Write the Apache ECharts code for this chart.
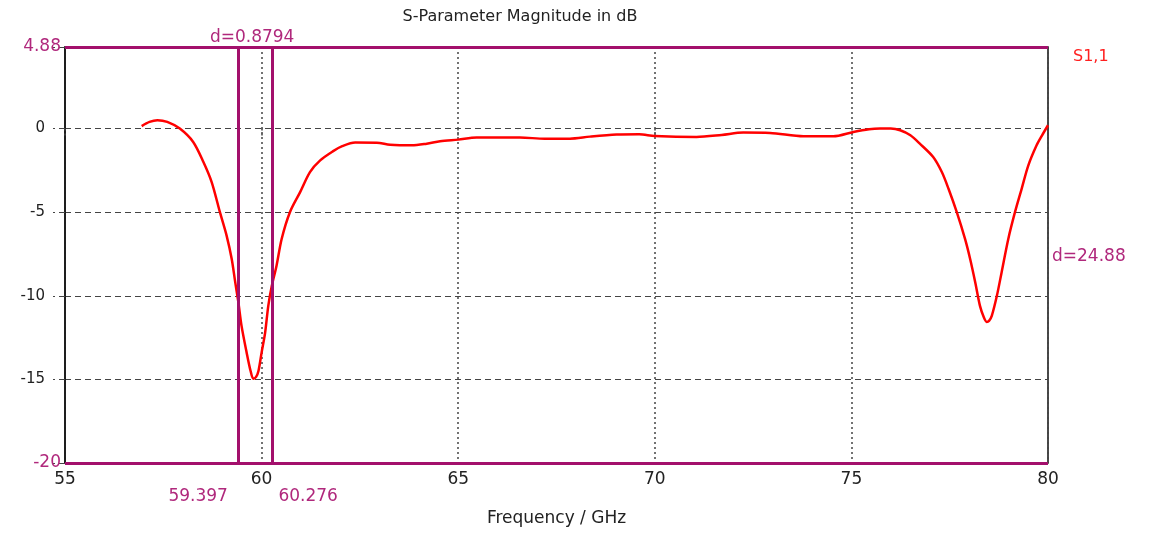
<!DOCTYPE html>
<html><head><meta charset="utf-8">
<script src="https://cdn.jsdelivr.net/npm/echarts@6/dist/echarts.min.js"></script>
<style>html,body{margin:0;padding:0;background:#fff}#c{width:1153px;height:533px}</style>
</head><body><div id="c"></div>
<script>
const freq = [56.95,57.15,57.35,57.6,57.92,58.26,58.52,58.73,58.94,59.11,59.24,59.33,59.41,59.49,59.62,59.72,59.79,59.86,59.92,60.0,60.09,60.17,60.26,60.38,60.51,60.72,60.98,61.23,61.49,61.82,62.05,62.38,62.93,63.27,63.82,64.2,64.54,65.0,65.47,66.57,67.2,67.84,68.35,69.03,69.6,70.0,71.06,71.7,72.25,72.93,73.78,74.54,75.05,75.45,75.73,76.0,76.24,76.5,76.74,77.08,77.3,77.47,77.68,77.89,78.02,78.15,78.27,78.37,78.44,78.5,78.57,78.7,78.82,78.99,79.16,79.33,79.5,79.71,79.85,80.0];
const s11 = [0.15,0.4,0.5,0.4,0.0,-0.8,-2.0,-3.2,-5.0,-6.4,-7.8,-9.2,-10.4,-11.8,-13.4,-14.5,-14.96,-14.85,-14.5,-13.4,-12.2,-10.6,-9.4,-8.2,-6.6,-5.0,-3.8,-2.6,-1.9,-1.35,-1.05,-0.83,-0.84,-0.96,-1.0,-0.9,-0.76,-0.66,-0.54,-0.54,-0.6,-0.6,-0.48,-0.36,-0.34,-0.44,-0.5,-0.38,-0.24,-0.26,-0.46,-0.46,-0.2,-0.04,0.0,0.0,-0.1,-0.4,-0.9,-1.7,-2.6,-3.6,-5.0,-6.6,-7.8,-9.2,-10.6,-11.3,-11.56,-11.5,-11.2,-10.0,-8.6,-6.6,-5.0,-3.6,-2.2,-1.0,-0.4,0.2];
const xTicks = [55,60,65,70,75,80];
const yTicks = [-20,-15,-10,-5,0];
const markerX = [59.397, 60.276];
const markerY = [4.88, -20];
const markerXLabels = ['59.397','60.276'];
const markerYLabels = ['4.88','-20'];
const deltaXLabel = 'd=0.8794';
const deltaYLabel = 'd=24.88';
const seriesName = 'S1,1';
const titleText = 'S-Parameter Magnitude in dB';
const xName = 'Frequency / GHz';

const MAGL = '#a3106c';
const MAGT = '#b0287c';
const FONT = 'DejaVu Sans';
const chart = echarts.init(document.getElementById('c'), null, {renderer:'canvas'});
const data = freq.map((f,i)=>[f, s11[i]]);
chart.setOption({
  animation:false,
  title:{text:titleText, left:515, textAlign:'center', top:4,
    textStyle:{fontFamily:FONT,fontSize:16,fontWeight:'normal',color:'#222'}},
  grid:{left:65,right:105,top:47,bottom:70,show:true,borderColor:'#111',borderWidth:1.5},
  xAxis:{type:'value',min:xTicks[0],max:xTicks[xTicks.length-1],interval:5,
    name:xName,nameLocation:'middle',nameGap:47,
    nameTextStyle:{fontFamily:FONT,fontSize:17,color:'#222'},
    axisLine:{show:false},
    axisTick:{show:true,length:7,lineStyle:{type:[2,3],color:'#444',width:1.5}},
    axisLabel:{margin:8,fontFamily:FONT,fontSize:17,color:'#222'},
    splitLine:{show:true,lineStyle:{type:[2,3],color:'#444',width:1.5}}},
  yAxis:{type:'value',min:yTicks[0],max:markerY[0],interval:5,
    axisLine:{show:true,lineStyle:{color:'#111',width:1.5}},
    axisTick:{show:true,length:12,lineStyle:{type:[6,4],color:'#444',width:1.2}},
    axisLabel:{margin:20,fontFamily:FONT,fontSize:15,color:'#222',
      formatter:v=> (yTicks.indexOf(v)>=0 && v!==yTicks[0]) ? String(v) : ''},
    splitLine:{show:true,lineStyle:{type:[6,4],color:'#444',width:1.2}}},
  series:[{name:seriesName,type:'line',data,showSymbol:false,smooth:0.3,
    lineStyle:{color:'#ff0000',width:2.5},z:3,
    markLine:{silent:true,symbol:'none',animation:false,
      lineStyle:{color:MAGL,width:3,type:'solid'},
      data:[
        {yAxis:markerY[0],label:{show:true,position:'start',distance:4,formatter:markerYLabels[0],color:MAGT,fontFamily:FONT,fontSize:17}},
        {yAxis:markerY[1],label:{show:true,position:'start',distance:4,formatter:markerYLabels[1],color:MAGT,fontFamily:FONT,fontSize:17}},
        {xAxis:markerX[0],label:{show:false}},
        {xAxis:markerX[1],label:{show:false}}
      ]}}]
});
const p0 = chart.convertToPixel({gridIndex:0},[markerX[0],markerY[1]]);
const p1 = chart.convertToPixel({gridIndex:0},[markerX[1],markerY[0]]);
const pr = chart.convertToPixel({gridIndex:0},[xTicks[xTicks.length-1],(markerY[0]+markerY[1])/2]);
const ts = {fontFamily:FONT,fontSize:17,fill:MAGT};
chart.setOption({graphic:[
  {type:'text',x:p0[0]-10,y:p0[1]+34,style:Object.assign({text:markerXLabels[0],align:'right',verticalAlign:'middle'},ts)},
  {type:'text',x:p1[0]+6,y:p0[1]+34,style:Object.assign({text:markerXLabels[1],align:'left',verticalAlign:'middle'},ts)},
  {type:'text',x:(p0[0]+p1[0])/2-3,y:p1[1]-9,style:Object.assign({text:deltaXLabel,align:'center',verticalAlign:'middle'},ts)},
  {type:'text',x:pr[0]+4,y:pr[1]+2,style:Object.assign({text:deltaYLabel,align:'left',verticalAlign:'middle'},ts)},
  {type:'text',x:pr[0]+25,y:57,style:{text:seriesName,align:'left',verticalAlign:'middle',fontFamily:FONT,fontSize:16,fill:'#ff2020'}}
]});
</script></body></html>
